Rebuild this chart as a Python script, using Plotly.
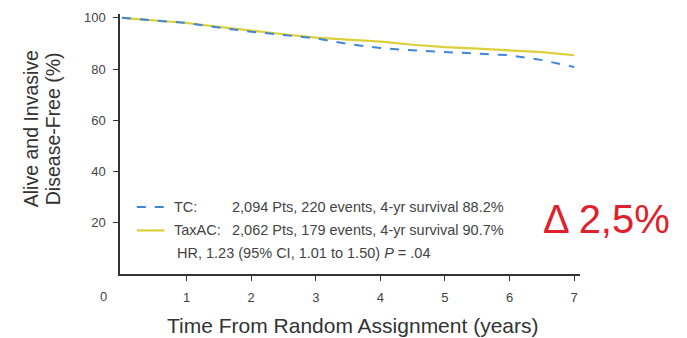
import plotly.graph_objects as go

years = [0, 0.5, 1, 1.5, 2, 2.5, 3, 3.5, 4, 4.5, 5, 5.5, 6, 6.5, 7]
tc = [100, 99.0, 98.0, 96.2, 94.6, 93.3, 92.0, 89.8, 88.2, 87.3, 86.6, 86.0, 85.4, 83.5, 80.8]
taxac = [100, 99.0, 98.0, 96.5, 95.0, 93.6, 92.3, 91.5, 90.7, 89.5, 88.6, 88.0, 87.3, 86.6, 85.4]

legend_rows = [
    ("TC:", "2,094 Pts, 220 events, 4-yr survival 88.2%"),
    ("TaxAC:", "2,062 Pts, 179 events, 4-yr survival 90.7%"),
]
hr_text = "HR, 1.23 (95% CI, 1.01 to 1.50) <i>P</i> = .04"
x_title = "Time From Random Assignment (years)"
y_title_lines = ["Alive and Invasive", "Disease-Free (%)"]
x_ticks = [1, 2, 3, 4, 5, 6, 7]
y_ticks = [20, 40, 60, 80, 100]

blue = "#3f86d6"
yellow = "#dccf3c"
narrow = "Liberation Sans Narrow, Liberation Sans, Arial"
regular = "Liberation Sans, Arial"

L, R, T, B = 120, 107, 10, 64
W, H = 687, 338
PW, PH = W - L - R, H - T - B

def px(x):
    return (x - L) / PW

def py(y):
    return (H - B - y) / PH

fig = go.Figure()
fig.add_trace(go.Scatter(x=years, y=taxac, mode="lines", line=dict(color=yellow, width=2.2), showlegend=False))
fig.add_trace(go.Scatter(x=years, y=tc, mode="lines", line=dict(color=blue, width=2, dash="dash"), showlegend=False))

fig.update_layout(
    width=W, height=H,
    margin=dict(l=L, r=R, t=T, b=B),
    paper_bgcolor="white", plot_bgcolor="white",
    font=dict(family=narrow, color="#444", size=13),
    xaxis=dict(range=[-0.03, 7.09], tickvals=x_ticks, ticks="outside", ticklen=5, tickcolor="#333",
               showline=True, linecolor="#333", linewidth=1.5, showgrid=False, zeroline=False,
               ticklabelstandoff=6),
    yaxis=dict(range=[0, 101.5], tickvals=y_ticks, ticks="outside", ticklen=5, tickcolor="#333",
               showline=True, linecolor="#333", linewidth=1.5, showgrid=False, zeroline=False,
               ticklabelstandoff=5),
)

# axis titles
fig.add_annotation(x=px(353), y=py(326), xref="paper", yref="paper", text=x_title, showarrow=False,
                   xanchor="center", yanchor="middle", font=dict(size=21, color="#333", family=regular))
for line, xx in zip(y_title_lines, [31, 53]):
    fig.add_annotation(x=px(xx), y=py(127), xref="paper", yref="paper", text=line, showarrow=False,
                       textangle=-90, xanchor="center", yanchor="middle",
                       font=dict(size=19.5, color="#333", family=regular))

# origin label "0"
fig.add_annotation(x=px(103), y=py(297), text="0", showarrow=False, xref="paper", yref="paper",
                   xanchor="center", yanchor="middle", font=dict(size=13, color="#444"))

# legend block
row_y = [26.2, 17.0]
styles = [dict(color=blue, width=2, dash="dash"), dict(color=yellow, width=2.2)]
for (name, desc), yy, st in zip(legend_rows, row_y, styles):
    fig.add_shape(type="line", x0=0.23, x1=0.66, y0=yy, y1=yy, xref="x", yref="y", line=st)
    fig.add_annotation(x=0.77, y=yy, text=name, showarrow=False, xanchor="left", yanchor="middle",
                       font=dict(size=14.5, color="#444", family=regular))
    fig.add_annotation(x=1.67, y=yy, text=desc, showarrow=False, xanchor="left", yanchor="middle",
                       font=dict(size=14.5, color="#444", family=regular))
fig.add_annotation(x=0.82, y=8.1, text=hr_text, showarrow=False, xanchor="left", yanchor="middle",
                   font=dict(size=14.5, color="#444", family=regular))

# delta annotation
fig.add_annotation(x=px(606), y=py(218), xref="paper", yref="paper", text="Δ 2,5%",
                   xanchor="center", yanchor="middle",
                   showarrow=False, font=dict(size=40, color="#e0202c", family=regular))

fig.write_html("out.html")
